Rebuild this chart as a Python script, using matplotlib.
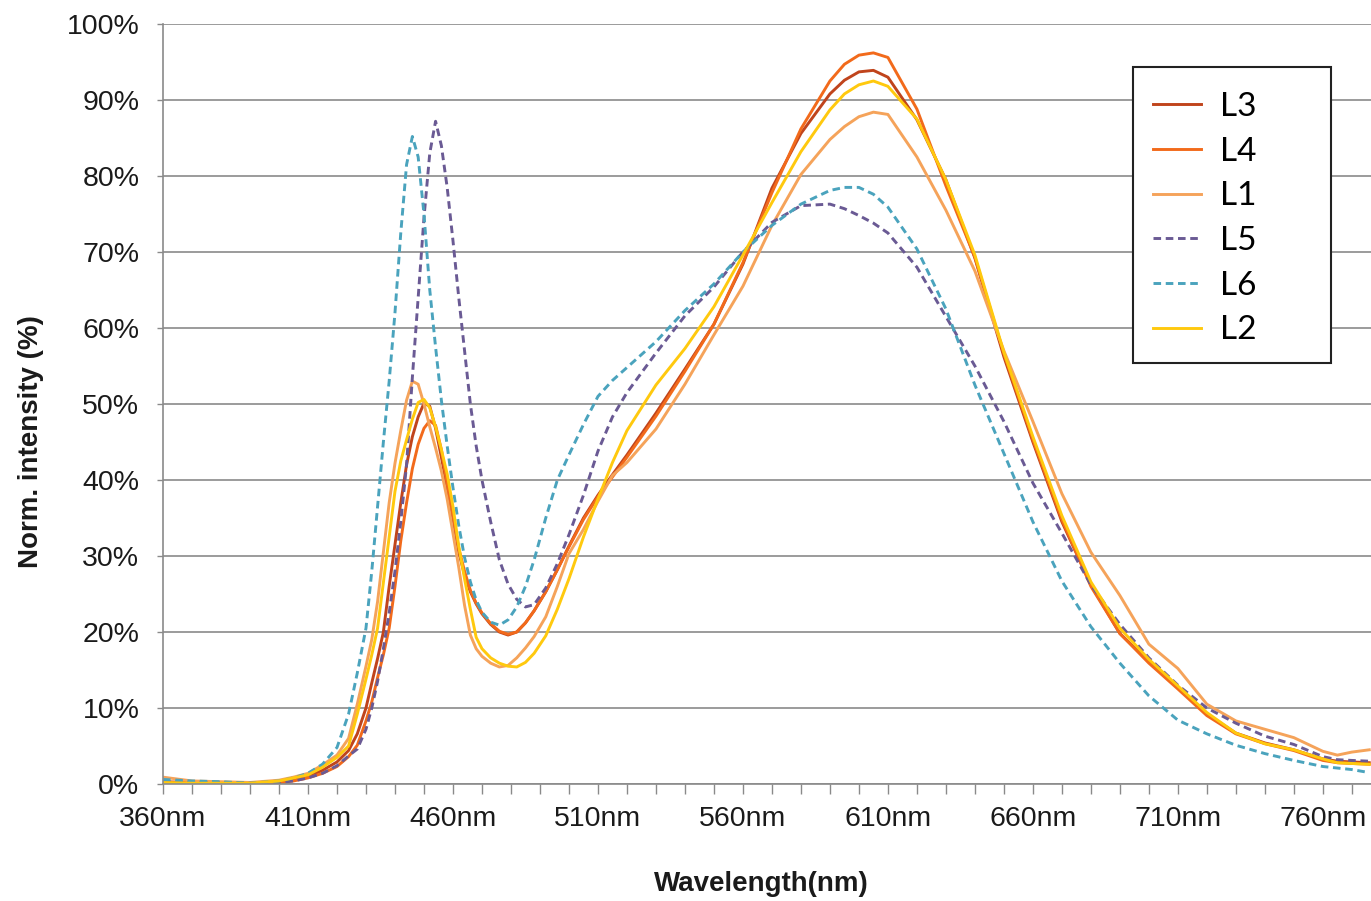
import matplotlib
matplotlib.use('Agg')
import matplotlib.pyplot as plt
from matplotlib.patches import Rectangle
from matplotlib.ticker import FixedLocator, MultipleLocator
import numpy as np

plt.rcParams['font.family'] = ['Liberation Sans', 'DejaVu Sans']

# wavelength grid (nm), finer around the blue peaks
wavelength = [360, 370, 380, 390, 400, 405, 410, 415, 420, 424, 427,
              430, 432, 434, 436, 438, 440, 442, 444, 446, 448, 450,
              452, 454, 456, 458, 460, 462, 464, 466, 468, 470,
              473, 476, 479, 482, 485, 488, 492, 496, 500,
              505, 510, 515, 520, 530, 540, 550, 560, 570, 580, 590,
              595, 600, 605, 610, 620, 630, 640, 650, 660, 670, 680,
              690, 700, 710, 720, 730, 740, 750, 760, 765, 770, 776]

# normalised intensity (%)
L3 = [0.3, 0.2, 0.1, 0.1, 0.3, 0.6, 1.0, 1.8, 2.9, 4.4, 6.6,
      10.0, 13.3, 16.5, 20.0, 26.0, 31.5, 37.0, 42.0, 45.7, 48.3, 50.1,
      49.7, 46.8, 43.0, 39.0, 35.0, 30.5, 27.5, 25.3, 23.7, 22.4,
      21.0, 20.0, 19.6, 20.0, 21.2, 22.8, 25.3, 28.2, 31.3,
      35.0, 38.0, 40.7, 43.3, 48.8, 54.6, 60.5, 68.4, 78.4, 85.6, 90.8,
      92.6, 93.7, 93.9, 93.0, 87.4, 79.5, 69.2, 56.2, 45.0, 34.5, 26.2,
      19.8, 16.1, 12.7, 9.2, 6.7, 5.4, 4.5, 3.3, 3.0, 2.9, 2.8]

L4 = [0.2, 0.2, 0.1, 0.1, 0.2, 0.4, 0.8, 1.4, 2.3, 3.6, 5.1,
      8.3, 10.8, 14.0, 17.0, 20.5, 26.0, 32.0, 37.0, 41.5, 44.7, 46.8,
      47.8, 47.2, 44.0, 39.5, 35.3, 31.0, 28.0, 25.5, 23.8, 22.5,
      21.1, 20.1, 19.7, 20.0, 21.2, 22.8, 25.3, 28.2, 31.2,
      34.8, 37.8, 40.4, 43.0, 48.4, 54.3, 60.5, 68.6, 77.8, 86.2, 92.5,
      94.7, 95.9, 96.2, 95.6, 88.8, 78.7, 69.3, 56.6, 45.3, 34.8, 26.0,
      19.8, 15.9, 12.5, 9.0, 6.6, 5.3, 4.4, 3.1, 2.8, 2.7, 2.6]

L1 = [0.9, 0.4, 0.3, 0.2, 0.5, 0.9, 1.4, 2.5, 3.8, 6.0, 10.5,
      15.5, 19.0, 24.0, 30.5, 37.0, 42.2, 46.5, 50.5, 53.0, 52.6, 50.0,
      47.0, 44.2, 41.2, 37.5, 33.0, 28.5, 23.5, 19.6, 17.8, 16.8,
      15.9, 15.4, 15.6, 16.6, 17.9, 19.4, 22.0, 26.0, 30.3,
      33.5, 37.2, 40.6, 42.3, 46.7, 52.6, 59.1, 65.5, 73.5, 80.2, 84.8,
      86.5, 87.8, 88.4, 88.1, 82.5, 75.5, 67.5, 57.0, 47.7, 38.2, 30.5,
      24.8, 18.4, 15.2, 10.5, 8.3, 7.2, 6.1, 4.3, 3.8, 4.2, 4.5]

L5 = [0.3, 0.2, 0.2, 0.1, 0.2, 0.4, 0.8, 1.4, 2.4, 3.7, 4.6,
      7.2, 10.0, 13.5, 17.8, 22.5, 28.0, 34.5, 42.0, 53.5, 64.0, 74.5,
      83.0, 87.2, 84.0, 78.5, 71.5, 64.0, 57.0, 50.0, 44.5, 40.0,
      34.5, 29.5, 26.3, 24.3, 23.3, 23.6, 25.8, 29.0, 32.8,
      38.0, 43.8, 48.3, 51.5, 56.7, 61.6, 65.4, 70.0, 73.9, 76.1, 76.3,
      75.7, 74.8, 73.8, 72.5, 68.0, 61.5, 55.0, 47.7, 39.6, 33.0, 26.2,
      21.0, 16.6, 13.0, 10.0, 8.0, 6.3, 5.2, 3.6, 3.2, 3.1, 3.0]

L6 = [0.6, 0.4, 0.3, 0.1, 0.4, 0.8, 1.4, 2.6, 4.8, 9.2, 14.6,
      20.5, 28.0, 36.5, 45.0, 53.0, 62.0, 72.5, 81.5, 85.2, 82.5, 75.0,
      65.0, 57.5, 50.5, 44.5, 39.0, 34.0, 29.8, 26.6, 24.2, 22.6,
      21.3, 20.9, 21.6, 23.3, 26.0, 29.5, 35.0, 40.0, 43.3,
      47.3, 51.0, 53.1, 54.8, 58.2, 62.3, 65.8, 70.0, 73.5, 76.3, 78.1,
      78.5, 78.5, 77.6, 75.9, 70.4, 62.5, 52.5, 43.5, 34.5, 26.7, 20.7,
      15.9, 11.6, 8.4, 6.6, 5.1, 4.0, 3.1, 2.3, 2.1, 1.9, 1.5]

L2 = [0.2, 0.1, 0.1, 0.1, 0.4, 0.8, 1.2, 2.2, 3.5, 5.0, 9.2,
      13.8, 17.0, 20.5, 26.5, 32.5, 38.5, 42.5, 45.3, 48.0, 50.2, 50.6,
      49.5, 47.0, 44.0, 40.8, 36.5, 31.3, 27.0, 23.0, 19.3, 17.8,
      16.6, 15.9, 15.5, 15.4, 16.0, 17.2, 19.5, 23.0, 27.0,
      32.5, 37.5, 42.3, 46.5, 52.5, 57.3, 62.8, 69.6, 76.5, 83.2, 88.7,
      90.8, 92.0, 92.5, 91.8, 87.5, 79.5, 69.6, 56.8, 45.7, 35.3, 26.6,
      20.5, 16.4, 12.9, 9.4, 6.7, 5.3, 4.5, 3.3, 2.8, 2.7, 2.6]

series = [("L3", L3, '#c0441c', '-'),
          ("L4", L4, '#f26a1b', '-'),
          ("L1", L1, '#f5a35a', '-'),
          ("L5", L5, '#6a5a94', '--'),
          ("L6", L6, '#4aa3bd', '--'),
          ("L2", L2, '#ffc90e', '-')]

W, H = 1371, 901
fig = plt.figure(figsize=(W / 100, H / 100), dpi=100)
ax = fig.add_axes([163 / W, 1 - 784 / H, 1 - 163 / W, 760 / H])

handles = []
for name, vals, col, ls in series:
    if ls == '--':
        ln, = ax.plot(wavelength, vals, color=col, lw=2.1, dashes=(2.6, 1.6), label=name)
    else:
        ln, = ax.plot(wavelength, vals, color=col, lw=2.1, label=name)
    handles.append(ln)

ax.set_xlim(360, 776.6)
ax.set_ylim(0, 100)

gray = '#8a8a8a'
ax.yaxis.grid(True, color=gray, lw=1.2)
ax.set_axisbelow(True)
for s in ['top', 'right']:
    ax.spines[s].set_visible(False)
for s in ['left', 'bottom']:
    ax.spines[s].set_color(gray)
    ax.spines[s].set_linewidth(1.2)

xt = np.arange(360, 761, 50)
ax.xaxis.set_major_locator(FixedLocator(xt))
ax.set_xticklabels([str(v) + "nm" for v in xt])
ax.xaxis.set_minor_locator(MultipleLocator(10))
ax.tick_params(axis='x', which='both', length=7, width=1, color=gray,
               labelsize=20.5, labelcolor='#1a1a1a', pad=9)

yt = np.arange(0, 101, 10)
ax.set_yticks(yt)
ax.set_yticklabels([str(v) + "%" for v in yt])
ax.tick_params(axis='y', length=4, width=1, color=gray,
               labelsize=20.5, labelcolor='#1a1a1a', pad=13)

fig.text(761 / W, 1 - 884 / H, 'Wavelength(nm)', ha='center', va='center',
         fontsize=20, fontweight='bold', color='#1a1a1a')
fig.text(31 / W, 1 - 442 / H, 'Norm. intensity (%)', ha='center', va='center',
         rotation=90, fontsize=20, fontweight='bold', color='#1a1a1a')

# legend box
box = Rectangle((1133 / W, 1 - 363 / H), 198 / W, 296 / H, transform=fig.transFigure,
                facecolor='white', edgecolor='#222222', lw=1.5, zorder=4)
fig.add_artist(box)
leg = fig.legend(handles=handles, loc='upper left', bbox_to_anchor=(1153 / W, 1 - 92 / H),
                 frameon=False, prop={'family': 'Lato', 'size': 24},
                 handlelength=1.45, handletextpad=0.55, labelspacing=0.44,
                 borderaxespad=0, borderpad=0)
leg.set_zorder(5)

plt.savefig("out.png", dpi=100)
